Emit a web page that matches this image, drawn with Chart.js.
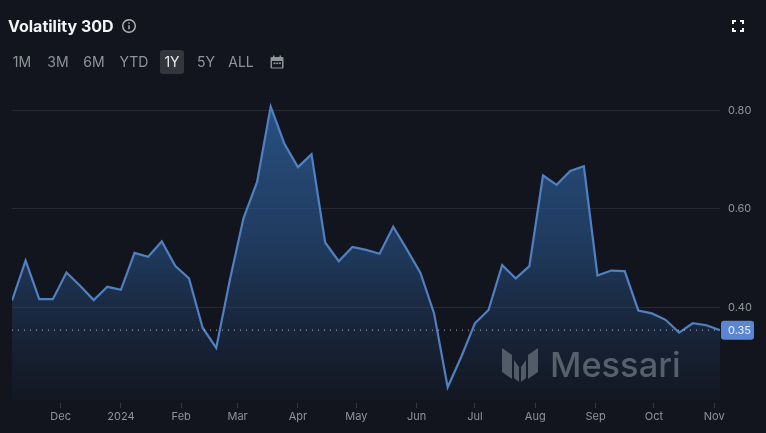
<!DOCTYPE html>
<html>
<head>
<meta charset="utf-8">
<script src="https://cdn.jsdelivr.net/npm/chart.js@4"></script>
<style>
  html, body { margin: 0; padding: 0; background: #12151d; }
  #wrap { position: relative; width: 766px; height: 433px; overflow: hidden; font-family: Inter, sans-serif; }
  #chart { position: absolute; left: 0; top: 0; }
  #title { position: absolute; left: 8px; top: 16px; font-size: 16px; line-height: 20px; font-weight: 700; color: #f2f3f5; }
  .range { position: absolute; top: 50px; height: 24px; line-height: 24px; font-size: 14px; color: #8f939a; text-align: center; }
  .range.active { background: #33363c; color: #e8e9eb; border-radius: 3px; }
  svg { position: absolute; }
  #wordmark { position: absolute; left: 550px; top: 343px; font-size: 34.4px; line-height: 44px; font-weight: 500; color: #565f6c; }
</style>
</head>
<body>
<div id="wrap">
  <canvas id="chart" width="766" height="433"></canvas>
  <div id="title">Volatility 30D</div>
  <svg style="left:121px;top:18px" width="16" height="16" viewBox="0 0 16 16" fill="none" stroke="#b5b8bd" stroke-width="1.4">
    <circle cx="8" cy="8" r="6.3"/><path d="M8 7.2v4M8 4.4v1.4"/>
  </svg>
  <div class="range" style="left:8px;width:28px">1M</div>
  <div class="range" style="left:44px;width:28px">3M</div>
  <div class="range" style="left:80px;width:28px">6M</div>
  <div class="range" style="left:117px;width:34px">YTD</div>
  <div class="range active" style="left:160px;width:24px">1Y</div>
  <div class="range" style="left:192px;width:28px">5Y</div>
  <div class="range" style="left:225px;width:32px">ALL</div>
  <svg style="left:270px;top:55px" width="14" height="14" viewBox="0 0 14 14" fill="#8f939a">
    <path d="M3 0.5h1.5v1.5h5V0.5H11v1.5h1.5a1 1 0 0 1 1 1v9.5a1 1 0 0 1-1 1h-11a1 1 0 0 1-1-1V3a1 1 0 0 1 1-1H3zM2 6v6.5h10V6z"/>
    <rect x="3.5" y="7.5" width="2" height="1.6"/><rect x="6.2" y="7.5" width="2" height="1.6"/><rect x="8.9" y="7.5" width="2" height="1.6"/>
  </svg>
  <svg style="left:732px;top:20px" width="12" height="12" viewBox="0 0 12 12" fill="none" stroke="#f2f3f5" stroke-width="2">
    <path d="M1 4V1h3M8 1h3v3M11 8v3H8M4 11H1V8"/>
  </svg>
  <svg style="left:502px;top:348px" width="36" height="35" viewBox="0 0 36 35" fill="#525b68">
    <path d="M0 0L10 7V31L0 24zM36 0L26 7V31L36 24zM12 12L17 19V34L12 30zM24 12L19 19V34L24 30z"/>
  </svg>
  <div id="wordmark">Messari</div>
</div>
<script>
'use strict';

const weekDates = [
  '2023-11-06', '2023-11-13', '2023-11-20', '2023-11-27', '2023-12-04', '2023-12-11',
  '2023-12-18', '2023-12-25', '2024-01-01', '2024-01-08', '2024-01-15', '2024-01-22',
  '2024-01-29', '2024-02-05', '2024-02-12', '2024-02-19', '2024-02-26', '2024-03-04',
  '2024-03-11', '2024-03-18', '2024-03-25', '2024-04-01', '2024-04-08', '2024-04-15',
  '2024-04-22', '2024-04-29', '2024-05-06', '2024-05-13', '2024-05-20', '2024-05-27',
  '2024-06-03', '2024-06-10', '2024-06-17', '2024-06-24', '2024-07-01', '2024-07-08',
  '2024-07-15', '2024-07-22', '2024-07-29', '2024-08-05', '2024-08-12', '2024-08-19',
  '2024-08-26', '2024-09-02', '2024-09-09', '2024-09-16', '2024-09-23', '2024-09-30',
  '2024-10-07', '2024-10-14', '2024-10-21', '2024-10-28', '2024-11-04',
];
const volatility = [
  0.414, 0.495, 0.417, 0.417, 0.471, 0.444,
  0.415, 0.442, 0.436, 0.511, 0.503, 0.534,
  0.484, 0.459, 0.359, 0.318, 0.456, 0.581,
  0.655, 0.808, 0.733, 0.685, 0.711, 0.532,
  0.494, 0.523, 0.517, 0.509, 0.564, 0.518,
  0.470, 0.388, 0.238, 0.300, 0.368, 0.395,
  0.486, 0.459, 0.484, 0.668, 0.649, 0.677,
  0.687, 0.465, 0.475, 0.474, 0.394, 0.388,
  0.375, 0.349, 0.368, 0.364, 0.354,
];
const monthDates  = ['2023-12-01', '2024-01-01', '2024-02-01', '2024-03-01', '2024-04-01', '2024-05-01',
                     '2024-06-01', '2024-07-01', '2024-08-01', '2024-09-01', '2024-10-01', '2024-11-01'];
const monthLabels = ['Dec', '2024', 'Feb', 'Mar', 'Apr', 'May', 'Jun', 'Jul', 'Aug', 'Sep', 'Oct', 'Nov'];
const yTicks = [0.4, 0.6, 0.8];

const LINE  = '#5080c2';
const TAG   = '#5b86d4';
const MUTED = '#8f939a';

const ms = d => Date.parse(d + 'T00:00:00Z');
const last = volatility[volatility.length - 1];

// area fades out towards the bottom of the plot
function areaFill(context) {
  const { ctx, chartArea, scales } = context.chart;
  if (!chartArea) return 'transparent';
  const g = ctx.createLinearGradient(0, scales.y.getPixelForValue(0.81), 0, 400);
  g.addColorStop(0, 'rgba(45, 92, 150, 0.85)');
  g.addColorStop(0.5, 'rgba(40, 80, 130, 0.62)');
  g.addColorStop(1, 'rgba(35, 60, 100, 0.08)');
  return g;
}

// blue tag for the latest value, on top of the y axis
const lastValueTag = {
  id: 'lastValueTag',
  afterDraw(chart) {
    const { ctx, scales } = chart;
    const y = scales.y.getPixelForValue(last);
    ctx.save();
    ctx.fillStyle = TAG;
    ctx.beginPath();
    ctx.roundRect(721, y - 9.5, 33, 19, 3);
    ctx.fill();
    ctx.fillStyle = '#eaf0fb';
    ctx.font = '11px Inter, sans-serif';
    ctx.textAlign = 'left';
    ctx.textBaseline = 'middle';
    ctx.fillText(last.toFixed(2), 728, y + 0.5);
    ctx.restore();
  },
};

new Chart(document.getElementById('chart').getContext('2d'), {
  type: 'line',
  data: {
    datasets: [
      {
        data: weekDates.map((d, i) => ({ x: ms(d), y: volatility[i] })),
        borderColor: LINE,
        borderWidth: 2.2,
        pointRadius: 0,
        tension: 0,
        fill: { value: 0.212 },
        backgroundColor: areaFill,
        order: 2,
      },
      {
        data: [{ x: ms(weekDates[0]), y: last }, { x: ms(weekDates[weekDates.length - 1]), y: last }],
        borderColor: 'rgba(220, 226, 235, 0.75)',
        borderWidth: 1,
        borderDash: [1, 5],
        pointRadius: 0,
        fill: false,
        order: 1,
      },
    ],
  },
  options: {
    responsive: false,
    animation: false,
    parsing: false,
    layout: { padding: { left: 12, right: 0, top: 90, bottom: 0 } },
    plugins: { legend: { display: false }, tooltip: { enabled: false } },
    scales: {
      x: {
        type: 'linear',
        min: ms(weekDates[0]),
        max: ms(weekDates[weekDates.length - 1]),
        border: { display: false },
        grid: { drawOnChartArea: false, drawTicks: true, tickLength: 5, color: '#33373f' },
        afterBuildTicks: axis => { axis.ticks = monthDates.map(d => ({ value: ms(d) })); },
        afterFit: axis => { axis.height = 30; },
        ticks: {
          autoSkip: false,
          maxRotation: 0,
          padding: 2,
          color: MUTED,
          font: { family: 'Inter, sans-serif', size: 11 },
          callback: v => monthLabels[monthDates.findIndex(d => ms(d) === v)],
        },
      },
      y: {
        position: 'right',
        min: 0.2061,
        max: 0.8416,
        border: { display: false },
        grid: { color: '#272a32', lineWidth: 1, drawTicks: false },
        afterBuildTicks: axis => { axis.ticks = yTicks.map(value => ({ value })); },
        afterFit: axis => { axis.width = 46; },
        ticks: {
          padding: 8,
          color: MUTED,
          font: { family: 'Inter, sans-serif', size: 11 },
          callback: v => v.toFixed(2),
        },
      },
    },
  },
  plugins: [lastValueTag],
});
</script>
</body>
</html>
